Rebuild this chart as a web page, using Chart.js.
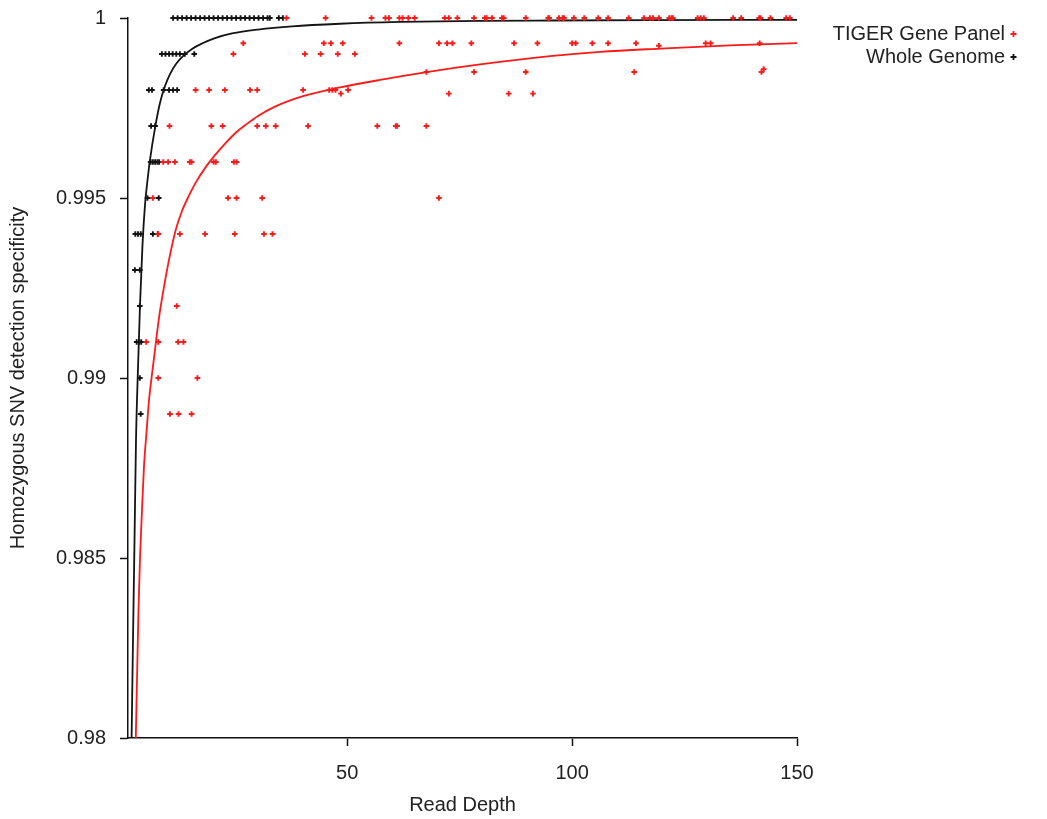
<!DOCTYPE html>
<html><head><meta charset="utf-8">
<script src="https://cdn.jsdelivr.net/npm/chart.js@4/dist/chart.umd.min.js"></script>
<style>html,body{margin:0;padding:0;background:#fff;}canvas{display:block;}</style>
</head><body>
<canvas id="c" width="1047" height="819"></canvas>
<script>
const seriesNames = ['TIGER Gene Panel', 'Whole Genome'];
const xTickValues = [50, 100, 150];
const yTickValues = [0.98, 0.985, 0.99, 0.995, 1];
const xTitle = 'Read Depth';
const yTitle = 'Homozygous SNV detection specificity';

// TIGER Gene Panel points, grouped by specificity row
const tigerRowSpec = [1.0, 0.9993, 0.99923, 0.999, 0.9985, 0.99858, 0.998, 0.9979, 0.997, 0.996, 0.995, 0.994, 0.992, 0.991, 0.990, 0.989];
const tigerRowDepths = [
  [36.5, 45.2, 55.4, 58.5, 59.3, 61.6, 62.3, 63.6, 65.0, 71.7, 72.6, 74.5, 78.2, 80.6, 81.0, 82.2, 84.4, 84.8, 89.7, 94.7, 94.9, 97.1, 97.9, 98.2, 100.4, 102.7, 105.8, 108.0, 112.6, 116.0, 117.3, 118.0, 119.3, 121.6, 122.1, 122.4, 127.9, 128.6, 129.3, 135.8, 137.6, 141.6, 141.9, 144.1, 147.6, 148.4],
  [26.9, 44.8, 46.4, 49.0, 61.6, 70.4, 72.2, 73.4, 77.6, 87.1, 92.3, 100.0, 100.8, 104.5, 108.0, 114.2, 129.7, 130.8, 141.7],
  [119.3],
  [24.7, 40.6, 44.1, 47.9, 51.7],
  [67.6, 78.2, 89.7, 113.8, 142.1],
  [142.6],
  [16.3, 19.3, 22.8, 28.4, 30.0, 40.2, 46.0, 46.7, 47.4, 50.2],
  [48.6, 72.6, 85.9, 91.3],
  [10.5, 19.8, 22.3, 30.0, 31.9, 34.1, 41.3, 56.7, 60.8, 61.1, 67.6],
  [9.1, 10.2, 11.7, 15.0, 15.4, 20.3, 20.8, 24.8, 25.4],
  [6.8, 23.5, 25.4, 31.1, 70.4],
  [8.0, 12.8, 18.4, 25.0, 31.5, 33.4],
  [12.1],
  [5.3, 8.0, 12.4, 13.6],
  [8.0, 16.7],
  [10.6, 12.5, 15.4]
];

// Whole Genome points, grouped by specificity row
const genomeRowSpec = [1.0, 0.999, 0.998, 0.997, 0.996, 0.995, 0.994, 0.993, 0.992, 0.991, 0.990, 0.989];
const genomeRowDepths = [
  [11.3, 12.3, 13.3, 14.3, 15.3, 16.3, 17.3, 18.3, 19.3, 20.3, 21.3, 22.3, 23.3, 24.3, 25.3, 26.3, 27.3, 28.3, 29.3, 30.3, 31.3, 32.3, 32.8, 34.8, 35.7],
  [8.8, 9.6, 10.4, 11.2, 12.0, 12.8, 13.9, 16.0],
  [5.9, 6.6, 9.2, 10.4, 11.3, 12.2],
  [6.4, 7.3],
  [6.3, 6.8, 7.3, 7.8, 8.2],
  [5.6, 8.1],
  [2.9, 3.5, 4.1, 6.8, 7.9],
  [2.8, 3.9],
  [3.9],
  [3.2, 3.7, 4.2],
  [3.9],
  [4.1]
];

// Fitted curves
const tigerFitDepth = [3.0, 3.27, 3.6, 3.94, 4.38, 4.83, 5.43, 5.94, 6.54, 7.27, 8.16, 9.34, 10.61, 11.94, 13.28, 14.68, 16.39, 18.39, 20.61, 23.06, 25.28, 27.5, 30.17, 33.95, 40.18, 48.4, 57.3, 67.3, 79.53, 95.09, 106.21, 119.55, 135.11, 150.0];
const tigerFitSpec  = [0.98, 0.98161, 0.98356, 0.985, 0.98633, 0.98756, 0.98856, 0.98939, 0.99004, 0.99078, 0.99167, 0.99258, 0.99342, 0.99414, 0.99464, 0.99503, 0.99544, 0.99583, 0.99619, 0.99654, 0.99682, 0.99704, 0.99728, 0.99754, 0.99783, 0.99807, 0.99828, 0.99849, 0.99871, 0.99894, 0.99906, 0.99915, 0.99924, 0.9993];
const genomeFitDepth = [2.07, 2.38, 2.72, 3.05, 3.43, 3.94, 4.49, 5.05, 5.61, 6.16, 7.27, 8.38, 9.50, 10.61, 11.94, 13.50, 15.50, 17.72, 20.61, 24.39, 30.17, 37.73, 48.40, 61.74, 79.53, 95.09, 117.32, 150.0];
const genomeFitSpec  = [0.98, 0.98272, 0.9855, 0.98828, 0.99003, 0.99203, 0.99369, 0.99481, 0.9955, 0.99606, 0.99694, 0.99764, 0.99811, 0.99844, 0.99872, 0.99894, 0.99914, 0.99929, 0.99944, 0.99957, 0.99968, 0.99977, 0.99984, 0.99989, 0.99992, 0.99993, 0.99994, 0.99995];

const RED = 'rgb(255,25,25)';
const BLACK = 'rgb(20,20,20)';
const FONT = '"Liberation Sans", Arial, sans-serif';

function rowsToPoints(specs, depths) {
  const pts = [];
  specs.forEach((s, i) => depths[i].forEach(d => pts.push({x: d, y: s})));
  return pts;
}
function pairs(xs, ys) { return xs.map((x, i) => ({x: x, y: ys[i]})); }

const legendPlugin = {
  id: 'rightLegend',
  afterDraw(chart) {
    const ctx = chart.ctx;
    ctx.save();
    ctx.font = '20px ' + FONT;
    ctx.fillStyle = '#222';
    ctx.textAlign = 'right';
    ctx.textBaseline = 'middle';
    const rows = [[seriesNames[0], RED, 34], [seriesNames[1], BLACK, 57]];
    rows.forEach(r => {
      ctx.fillText(r[0], 1005, r[2]);
      ctx.strokeStyle = r[1];
      ctx.lineWidth = 1.8;
      ctx.beginPath();
      ctx.moveTo(1010.5, r[2]); ctx.lineTo(1016.5, r[2]);
      ctx.moveTo(1013.5, r[2] - 3); ctx.lineTo(1013.5, r[2] + 3);
      ctx.stroke();
    });
    ctx.restore();
  }
};

new Chart(document.getElementById('c'), {
  type: 'scatter',
  data: {
    datasets: [
      { label: seriesNames[0], data: rowsToPoints(tigerRowSpec, tigerRowDepths), clip: false,
        pointStyle: 'cross', pointRadius: 2.8, borderColor: RED, backgroundColor: RED, borderWidth: 1.9 },
      { label: seriesNames[1], data: rowsToPoints(genomeRowSpec, genomeRowDepths), clip: false,
        pointStyle: 'cross', pointRadius: 2.8, borderColor: BLACK, backgroundColor: BLACK, borderWidth: 1.9 },
      { label: 'tigerFit', data: pairs(tigerFitDepth, tigerFitSpec), showLine: true, pointRadius: 0,
        borderColor: RED, borderWidth: 1.8, cubicInterpolationMode: 'monotone' },
      { label: 'genomeFit', data: pairs(genomeFitDepth, genomeFitSpec), showLine: true, pointRadius: 0,
        borderColor: BLACK, borderWidth: 1.8, cubicInterpolationMode: 'monotone' }
    ]
  },
  options: {
    responsive: false,
    animation: false,
    layout: { padding: { top: 18, right: 250, bottom: 0, left: 0 } },
    plugins: { legend: { display: false }, tooltip: { enabled: false } },
    scales: {
      x: {
        type: 'linear', min: 1.27, max: 150,
        afterBuildTicks: s => { s.ticks = xTickValues.map(v => ({value: v})); },
        afterFit: s => { s.height = 81; s.paddingLeft = 0; s.paddingRight = 0; },
        ticks: { color: '#222', font: { family: FONT, size: 20 }, padding: 15, callback: v => String(v) },
        grid: { display: true, drawOnChartArea: false, drawTicks: true, tickLength: 8, tickWidth: 1.5, tickColor: '#111' },
        border: { display: true, color: '#111', width: 1.5 },
        title: { display: true, text: xTitle, color: '#222', font: { family: FONT, size: 20 }, padding: { top: 0, bottom: 2 } }
      },
      y: {
        type: 'linear', min: 0.98, max: 1,
        afterBuildTicks: s => { s.ticks = yTickValues.map(v => ({value: v})); },
        afterFit: s => { s.width = 128; s.paddingTop = 0; s.paddingBottom = 0; },
        ticks: { color: '#222', font: { family: FONT, size: 20 }, padding: 14, callback: v => String(+Number(v).toFixed(3)) },
        grid: { display: true, drawOnChartArea: false, drawTicks: true, tickLength: 8, tickWidth: 1.5, tickColor: '#111' },
        border: { display: true, color: '#111', width: 1.5 },
        title: { display: true, text: yTitle, color: '#222', font: { family: FONT, size: 20 }, padding: { top: 6, bottom: 0 } }
      }
    }
  },
  plugins: [legendPlugin]
});
</script>
</body></html>
